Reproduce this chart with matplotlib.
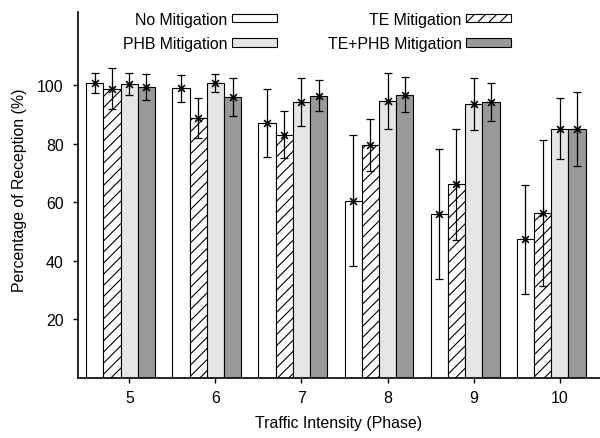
import numpy as np
import matplotlib
matplotlib.use("Agg")
from matplotlib import pyplot as plt

plt.rcParams['font.family'] = ['Liberation Sans', 'DejaVu Sans']
plt.rcParams['hatch.linewidth'] = 0.8

phases = ['5', '6', '7', '8', '9', '10']

no_mit = [100.75, 98.85, 87.1, 60.5, 56.0, 47.25]
no_mit_err = [3.35, 4.65, 11.7, 22.4, 22.2, 18.55]

te_mit = [98.8, 88.9, 83.0, 79.5, 66.1, 56.3]
te_mit_err = [7.0, 6.85, 8.0, 8.9, 19.05, 25.05]

phb_mit = [100.5, 100.7, 94.3, 94.7, 93.5, 85.1]
phb_mit_err = [3.75, 3.1, 8.2, 9.55, 8.9, 10.5]

tephb_mit = [99.2, 95.9, 96.4, 96.7, 94.3, 85.1]
tephb_mit_err = [4.45, 6.6, 5.25, 5.9, 6.5, 12.6]


def main():
    fig = plt.figure(figsize=(6, 4.39), dpi=100)
    ax = fig.add_axes([0.1295, 0.1378, 0.8705, 0.8326])

    x = np.arange(len(phases))
    w = 0.2
    series = [
        (no_mit, no_mit_err, 'white', None, 'No Mitigation', -0.4),
        (te_mit, te_mit_err, 'white', '///', 'TE Mitigation', -0.2),
        (phb_mit, phb_mit_err, '#e5e5e5', None, 'PHB Mitigation', 0.0),
        (tephb_mit, tephb_mit_err, '#999999', None, 'TE+PHB Mitigation', 0.2),
    ]
    handles = {}
    for vals, err, col, hatch, label, off in series:
        b = ax.bar(x + off, vals, w, color=col, edgecolor='black',
                   linewidth=0.8, hatch=hatch, label=label)
        handles[label] = b
        ax.errorbar(x + off, vals, yerr=err, fmt='none', ecolor='black',
                    elinewidth=0.9, capsize=2.6, capthick=0.9)
        ax.plot(x + off, vals, ls='none', marker=(8, 2, 0), color='black',
                ms=7, mew=0.8)

    ax.set_xlim(-0.599, 5.467)
    ax.set_ylim(0, 125)
    ax.set_xticks(x)
    ax.set_xticklabels(phases)
    ax.set_yticks([20, 40, 60, 80, 100])

    ax.spines['top'].set_visible(False)
    ax.spines['right'].set_visible(False)
    ax.spines['left'].set_linewidth(1.2)
    ax.spines['bottom'].set_linewidth(1.2)
    ax.tick_params(axis='both', direction='out', length=3.6, width=1.0,
                   labelsize=11.4)
    ax.tick_params(axis='x', pad=5.5)
    ax.tick_params(axis='y', pad=6.5)

    ax.set_xlabel('Traffic Intensity (Phase)', fontsize=11.4, labelpad=7)
    ax.set_ylabel('Percentage of Reception (%)', fontsize=11.4)
    ax.yaxis.set_label_coords(-0.098, 0.516)

    order = ['No Mitigation', 'PHB Mitigation', 'TE Mitigation', 'TE+PHB Mitigation']
    ax.legend([handles[k] for k in order], order, ncol=2, markerfirst=False,
              frameon=False, fontsize=11.4, loc='upper left',
              bbox_to_anchor=(123 / 600, 1 - 12.5 / 439),
              bbox_transform=fig.transFigure, borderpad=0, borderaxespad=0,
              handlelength=2.83, handleheight=0.44, handletextpad=0.3,
              columnspacing=3.2, labelspacing=0.62)

    fig.savefig('out.png', dpi=100)


if __name__ == '__main__':
    main()
